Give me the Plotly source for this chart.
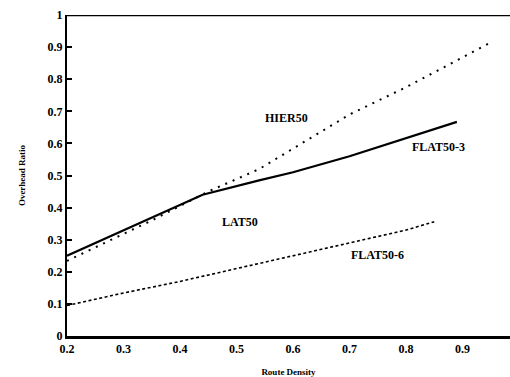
import plotly.graph_objects as go

# FLAT50-3 (solid)
flat3_x = [0.20, 0.276, 0.35, 0.44, 0.54, 0.60, 0.70, 0.807, 0.89]
flat3_y = [0.25, 0.31, 0.37, 0.44, 0.485, 0.51, 0.56, 0.62, 0.667]
# HIER50 (dotted)
hier_x = [0.20, 0.276, 0.35, 0.45, 0.54, 0.70, 0.80, 0.945]
hier_y = [0.234, 0.297, 0.36, 0.45, 0.52, 0.69, 0.775, 0.91]
# FLAT50-6 (fine dashes)
flat6_x = [0.20, 0.30, 0.40, 0.50, 0.60, 0.70, 0.80, 0.85]
flat6_y = [0.095, 0.134, 0.17, 0.21, 0.25, 0.29, 0.33, 0.356]

labels = ["HIER50", "FLAT50-3", "LAT50", "FLAT50-6"]
label_x = [0.588, 0.857, 0.506, 0.749]
label_y = [0.68, 0.59, 0.355, 0.252]

x_ticks = [0.2, 0.3, 0.4, 0.5, 0.6, 0.7, 0.8, 0.9]
y_ticks = [0, 0.1, 0.2, 0.3, 0.4, 0.5, 0.6, 0.7, 0.8, 0.9, 1]

font_fam = "Liberation Serif"

fig = go.Figure()
fig.add_trace(go.Scatter(x=hier_x, y=hier_y, mode="lines",
                         line=dict(color="black", width=2, dash="2px,6px")))
fig.add_trace(go.Scatter(x=flat3_x, y=flat3_y, mode="lines",
                         line=dict(color="black", width=2.2)))
fig.add_trace(go.Scatter(x=flat6_x, y=flat6_y, mode="lines",
                         line=dict(color="black", width=1.6, dash="3px,2.5px")))

for t, xx, yy in zip(labels, label_x, label_y):
    fig.add_annotation(x=xx, y=yy, text="<b>" + t + "</b>", showarrow=False,
                       font=dict(family=font_fam, size=12, color="black"))

fig.add_shape(type="line", xref="paper", yref="y", x0=0, x1=1, y0=1, y1=1,
              line=dict(color="black", width=2.5))

fig.update_layout(
    width=510, height=377,
    margin=dict(l=67, r=0, t=15, b=41),
    paper_bgcolor="white", plot_bgcolor="white",
    showlegend=False,
    font=dict(family=font_fam, size=12, color="black"),
    xaxis=dict(range=[0.2, 0.984], tickvals=x_ticks,
               ticktext=["<b>%g</b>" % v for v in x_ticks],
               showgrid=False, zeroline=False, showline=True,
               linecolor="black", linewidth=2.5, ticks="", ticklen=0,
               title=dict(text="<b>Route Density</b>", font=dict(size=9), standoff=14)),
    yaxis=dict(range=[0, 1], tickvals=y_ticks,
               ticktext=["<b>%g</b>" % v for v in y_ticks],
               showgrid=False, zeroline=False, showline=True,
               linecolor="black", linewidth=2, ticks="inside", ticklen=5,
               tickcolor="black", tickwidth=1.5,
               title=dict(text="<b>Overhead Ratio</b>", font=dict(size=9), standoff=20)),
)

fig.write_html("out.html")
